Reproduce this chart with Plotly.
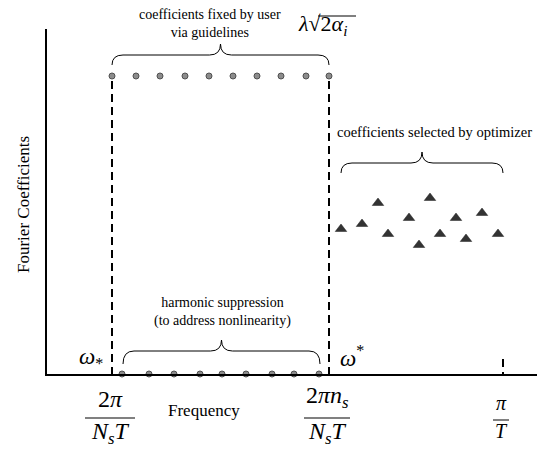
import plotly.graph_objects as go

# ---------------- data (frequency axis in arbitrary units) ----------------
X_RANGE = [0, 490]
Y_RANGE = [0, 345]

fixed_freq = [65, 89, 113, 138, 162, 186, 210, 234, 259, 282]
fixed_coef = [298, 298, 298, 298, 298, 298, 298, 298, 298, 298]

supp_freq = [75, 102, 127, 153, 175, 199, 225, 247, 272]
supp_coef = [0, 0, 0, 0, 0, 0, 0, 0, 0]

opt_freq = [294, 315, 331, 341, 362, 372, 383, 393, 409, 419, 435, 451]
opt_coef = [145, 150, 171, 140, 156, 129, 176, 140, 156, 135, 161, 140]

w_lo, w_hi, w_ny = 65, 282, 456          # 2pi/(NsT), 2pi ns/(NsT), pi/T
tick_vals = [w_lo, w_hi, w_ny]
tick_num = ["2<i>π</i>", "2<i>πn<sub>s</sub></i>", "<i>π</i>"]
tick_den = ["<i>N<sub>s</sub>T</i>", "<i>N<sub>s</sub>T</i>", "<i>T</i>"]
tick_size = [24, 24, 20]
tick_bar_half = [25, 23, 8]
tick_bar_drop = [44, 44, 46]

# ---------------- layout geometry ----------------
W, H = 540, 452
ML, MR, MT, MB = 47, 3, 29, 78
FONT = "Liberation Serif, Times New Roman, Times, serif"


def px(xd):
    return (xd - X_RANGE[0]) / (X_RANGE[1] - X_RANGE[0])


def py(yd):
    return (yd - Y_RANGE[0]) / (Y_RANGE[1] - Y_RANGE[0])


def brace(x0, x1, ye, yl, yc, r=11):
    xc = (x0 + x1) / 2
    return (f"M {x0},{ye} Q {x0},{yl} {x0 + r},{yl} L {xc - r},{yl} "
            f"Q {xc},{yl} {xc},{yc} Q {xc},{yl} {xc + r},{yl} "
            f"L {x1 - r},{yl} Q {x1},{yl} {x1},{ye}")


def note(x, y, text, size=14, **kw):
    d = dict(x=px(x), y=py(y), xref="paper", yref="paper", showarrow=False,
             xanchor="center", yanchor="middle",
             text=text, font=dict(family=FONT, size=size, color="black"))
    d.update(kw)
    return d


fig = go.Figure()

dot_marker = dict(size=6, color="#8c8c8c", line=dict(color="#505050", width=1))
fig.add_trace(go.Scatter(x=fixed_freq, y=fixed_coef, mode="markers",
                         marker=dot_marker, cliponaxis=False, hoverinfo="skip"))
fig.add_trace(go.Scatter(x=supp_freq, y=supp_coef, mode="markers",
                         marker=dot_marker, cliponaxis=False, hoverinfo="skip"))
fig.add_trace(go.Scatter(x=opt_freq, y=opt_coef, mode="markers",
                         marker=dict(symbol="triangle-up", size=10, color="#333333",
                                     line=dict(color="#222222", width=0.5)),
                         cliponaxis=False, hoverinfo="skip"))

shapes = []
dash = dict(color="black", width=2, dash="8px,5px")
shapes.append(dict(type="line", xref="x", yref="y", x0=w_lo, x1=w_lo,
                   y0=fixed_coef[0] - 5, y1=0, line=dash))
shapes.append(dict(type="line", xref="x", yref="paper", x0=w_hi, x1=w_hi,
                   y0=py(fixed_coef[-1] - 5), y1=py(-4), line=dash))
shapes.append(dict(type="line", xref="x", yref="y", x0=w_ny, x1=w_ny,
                   y0=15, y1=0, line=dash))

bl = dict(color="black", width=1)
top = max(fixed_coef)
shapes.append(dict(type="path", xref="x", yref="y", line=bl,
                   path=brace(fixed_freq[0], fixed_freq[-1], top + 11, top + 21, top + 32)))
shapes.append(dict(type="path", xref="x", yref="y", line=bl,
                   path=brace(supp_freq[0] + 1, supp_freq[-1] + 1, 10, 23, 34)))
otop = max(opt_coef)
shapes.append(dict(type="path", xref="x", yref="y", line=bl,
                   path=brace(opt_freq[0], opt_freq[-1] + 5, otop + 25, otop + 35, otop + 46)))

# overline (vinculum) of the square root in the lambda*sqrt(2 alpha_i) label
shapes.append(dict(type="line", xref="paper", yref="paper",
                   x0=px(271), x1=px(309), y0=py(358), y1=py(358),
                   line=dict(color="black", width=1)))

annotations = [
    note(163, 350.5, "coefficients fixed by user<br>via guidelines", 14),
    note(387, 242, "coefficients selected by optimizer", 14.5),
    note(175, 62, "harmonic suppression<br>(to address nonlinearity)", 14),
    note(249, 349, "<i>λ</i>√2<i>α<sub>i</sub></i>", 22, xanchor="left"),
    note(58, 16, "<i>ω</i><sub>*</sub>", 23, xanchor="right"),
    note(291, 18, "<i>ω</i><sup>*</sup>", 23, xanchor="left"),
    note(157, -36, "Frequency", 17),
    note(-24, 169, "Fourier Coefficients", 17, textangle=-90),
]

for v, num, den, fs, hw, dr in zip(tick_vals, tick_num, tick_den, tick_size,
                                    tick_bar_half, tick_bar_drop):
    annotations.append(note(v, 0, num, fs, xshift=-2, yanchor="bottom", yshift=-(dr - 4)))
    annotations.append(note(v, 0, den, fs, xshift=-2, yanchor="top", yshift=-(dr - 2)))
    shapes.append(dict(type="line", xref="paper", yref="paper",
                       x0=px(v - 2 - hw), x1=px(v - 2 + hw),
                       y0=py(-dr), y1=py(-dr), line=dict(color="#808080", width=2)))

fig.update_layout(
    width=W, height=H, margin=dict(l=ML, r=MR, t=MT, b=MB),
    paper_bgcolor="white", plot_bgcolor="white", showlegend=False,
    shapes=shapes, annotations=annotations,
    xaxis=dict(range=X_RANGE, showline=True, linecolor="black", linewidth=2,
               showgrid=False, zeroline=False, showticklabels=False, ticks=""),
    yaxis=dict(range=Y_RANGE, showline=True, linecolor="black", linewidth=2,
               showgrid=False, zeroline=False, showticklabels=False, ticks=""),
)

fig.write_html("out.html")
